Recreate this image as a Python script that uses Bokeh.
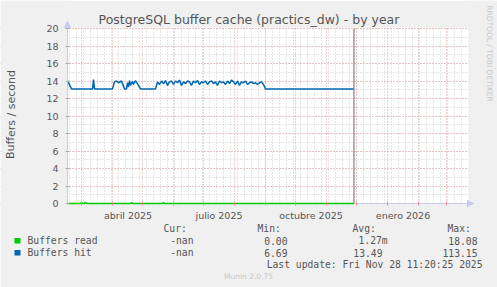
import pandas as pd
from bokeh.plotting import figure
from bokeh.models import (Range1d, FixedTicker, SingleIntervalTicker, Label,
                          Arrow, NormalHead)
from bokeh.core.properties import value
from bokeh.embed import file_html
from bokeh.resources import INLINE

# ---------------- data ----------------
read_dates = ["2025-02-15", "2025-02-28", "2025-03-01", "2025-03-02", "2025-03-04",
              "2025-03-05", "2025-03-06", "2025-04-19", "2025-04-20", "2025-04-21",
              "2025-05-21", "2025-05-22", "2025-05-23", "2025-11-28 11:20"]
read_values = [0, 0, 0.15, 0, 0, 0.15, 0, 0, 0.12, 0, 0, 0.12, 0, 0]

hit_dates = ["2025-02-15", "2025-02-19", "2025-03-12", "2025-03-13", "2025-03-14",
             "2025-04-01", "2025-04-03", "2025-04-05", "2025-04-07", "2025-04-10",
             "2025-04-11", "2025-04-13", "2025-04-15", "2025-04-16", "2025-04-17",
             "2025-04-18", "2025-04-19", "2025-04-21", "2025-04-22", "2025-04-24",
             "2025-04-27", "2025-04-29", "2025-05-14",
             "2025-05-16", "2025-05-18", "2025-05-20", "2025-05-22", "2025-05-24",
             "2025-05-26", "2025-05-28", "2025-05-30",
             "2025-06-01", "2025-06-03", "2025-06-05", "2025-06-07", "2025-06-09",
             "2025-06-11", "2025-06-13", "2025-06-15", "2025-06-17", "2025-06-19",
             "2025-06-21", "2025-06-23", "2025-06-25", "2025-06-27", "2025-06-29",
             "2025-07-01", "2025-07-03", "2025-07-05", "2025-07-07", "2025-07-09",
             "2025-07-11", "2025-07-13", "2025-07-15", "2025-07-17", "2025-07-19",
             "2025-07-21", "2025-07-23", "2025-07-25", "2025-07-27", "2025-07-29",
             "2025-07-31",
             "2025-08-02", "2025-08-04", "2025-08-06", "2025-08-08", "2025-08-10",
             "2025-08-12", "2025-08-14", "2025-08-16", "2025-08-18", "2025-08-20",
             "2025-08-22", "2025-08-24", "2025-08-26", "2025-08-28", "2025-08-30",
             "2025-09-01", "2025-11-28 11:20"]
hit_values = [14.05, 13.1, 13.1, 14.15, 13.1,
              13.1, 13.9, 14.0, 13.8, 14.0,
              13.7, 13.1, 13.1, 13.8, 13.3,
              14.05, 13.5, 13.95, 13.6, 14.05,
              13.5, 13.1, 13.1,
              13.9, 13.6, 14.0, 13.7, 14.05, 13.5, 13.9, 14.0,
              13.6, 14.0, 13.8, 14.1, 13.5, 13.9, 13.7, 14.0, 13.9, 13.5,
              14.0, 13.8, 14.05, 13.6, 13.9,
              13.8, 14.0, 13.6, 13.9, 14.0, 13.7, 13.9, 13.5, 14.0, 13.8,
              13.9, 13.6, 14.0, 13.7, 14.1, 13.9,
              13.6, 14.0, 13.5, 13.9, 13.8, 14.0, 13.6, 13.8, 13.9, 13.7,
              13.8, 13.6, 13.8, 13.9, 13.6,
              13.1, 13.1]

month_labels = ["abril 2025", "julio 2025", "octubre 2025", "enero 2026"]
month_label_dates = ["2025-04-16 12:00", "2025-07-16 12:00", "2025-10-16 12:00", "2026-01-16 12:00"]

legend_names = ["Buffers read", "Buffers hit"]
legend_colors = ["#00cc00", "#0066b3"]
legend_headers = ["Cur:", "Min:", "Avg:", "Max:"]
cur_vals = ["-nan", "-nan"]
min_vals = ["0.00", "6.69"]
avg_vals = ["1.27m", "13.49"]
max_vals = ["18.08", "113.15"]

title_text = "PostgreSQL buffer cache (practics_dw) - by year"
y_label = "Buffers / second"
side_text = "RRDTOOL / TOBI OETIKER"
last_update = "Last update: Fri Nov 28 11:20:25 2025"
footer = "Munin 2.0.75"
now_date = "2025-11-28 11:20"
range_start = "2025-02-15"
range_end = "2026-03-22"
y_max = 20


def ms(d):
    return pd.Timestamp(d).value / 1e6


def to_dt(lst):
    return pd.to_datetime(lst, format="ISO8601")


start_ms = ms(range_start)
end_ms = ms(range_end)

# rrdtool plot-area geometry in canvas pixels
FL, FR, FT, FB = 67, 467, 28, 203
W, H = 497, 287


def X(px):
    return start_ms + (px - FL) / (FR - FL) * (end_ms - start_ms)


def Y(py):
    return (FB - py) / (FB - FT) * y_max


BG = "#f0f0f0"
AX = "#c8c8f0"
TXT = "#555555"

# the frame covers the whole canvas; axes sit at fixed locations
p = figure(width=W, height=H, x_axis_type="datetime",
           x_range=Range1d(X(0), X(W)), y_range=Range1d(Y(H), Y(0)),
           output_backend="svg", toolbar_location=None, title=None,
           min_border=0, min_border_left=0, min_border_right=0,
           min_border_top=0, min_border_bottom=0)
p.border_fill_color = BG
p.background_fill_color = "#ffffff"
p.outline_line_color = None

# y axis
p.yaxis.fixed_location = start_ms
p.yaxis.bounds = (0, y_max)
p.yaxis.ticker = SingleIntervalTicker(interval=2, num_minor_ticks=2)
p.yaxis.axis_line_color = AX
p.yaxis.major_tick_in = 2
p.yaxis.major_tick_out = 2
p.yaxis.major_tick_line_color = "#b0b0b0"
p.yaxis.minor_tick_line_color = None
p.yaxis.major_label_standoff = 5
p.yaxis.major_label_text_font = "DejaVu Sans"
p.yaxis.major_label_text_font_size = "9.5px"
p.yaxis.major_label_text_color = TXT

# x axis
label_ms = [ms(d) for d in month_label_dates]
month_starts = [ms(d) for d in pd.date_range("2025-03-01", "2026-03-01", freq="MS")]
weeks = [ms(d) for d in pd.date_range("2025-02-17", "2026-03-22", freq="W-MON")]
p.xaxis.fixed_location = 0
p.xaxis.bounds = (start_ms, end_ms)
p.xaxis.ticker = FixedTicker(ticks=label_ms, minor_ticks=month_starts)
p.xaxis.major_label_overrides = {v: t for v, t in zip(label_ms, month_labels)}
p.xaxis.major_tick_line_color = None
p.xaxis.major_tick_in = 0
p.xaxis.major_tick_out = 0
p.xaxis.minor_tick_line_color = "#e89090"
p.xaxis.minor_tick_in = 2
p.xaxis.minor_tick_out = 2
p.xaxis.axis_line_color = None
p.xaxis.major_label_standoff = 4
p.xaxis.major_label_text_font = "DejaVu Sans"
p.xaxis.major_label_text_font_size = "9.5px"
p.xaxis.major_label_text_color = TXT

# grids
p.xgrid.ticker = FixedTicker(ticks=month_starts, minor_ticks=weeks)
p.xgrid.grid_line_color = "#e8a0a0"
p.xgrid.grid_line_dash = "1 2"
p.xgrid.minor_grid_line_color = "#cccccc"
p.xgrid.minor_grid_line_dash = "1 2"
p.ygrid.grid_line_color = "#e8a0a0"
p.ygrid.grid_line_dash = "1 2"
p.ygrid.minor_grid_line_color = "#cccccc"
p.ygrid.minor_grid_line_dash = "1 2"

# canvas-coloured margins around the rrdtool plot area (left, right, top, bottom)
p.quad(left=[X(0), X(FR + 1), X(0), X(0)],
       right=[start_ms, X(W), X(W), X(W)],
       bottom=[Y(H), Y(H), Y(FT - 1), Y(H)],
       top=[Y(0), Y(0), Y(0), 0],
       fill_color=BG, line_color=None)

# x axis line (under the data, as rrdtool draws it)
p.segment(x0=[start_ms], y0=[0], x1=[end_ms], y1=[0], line_color=AX, line_width=1)

# data
p.line(x=to_dt(read_dates), y=read_values, line_color=legend_colors[0], line_width=1.5)
p.line(x=to_dt(hit_dates), y=hit_values, line_color=legend_colors[1], line_width=1.5)
p.segment(x0=[ms(now_date)], y0=[0], x1=[ms(now_date)], y1=[y_max],
          line_color="#808080", line_width=1.2)

# axis arrows
p.add_layout(Arrow(end=NormalHead(size=6, fill_color=AX, line_color=AX),
                   x_start=start_ms, y_start=y_max, x_end=start_ms, y_end=Y(21),
                   line_color=AX))
p.add_layout(Arrow(end=NormalHead(size=6, fill_color=AX, line_color=AX),
                   x_start=end_ms, y_start=0, x_end=X(473), y_end=0,
                   line_color=AX))

# texts
p.add_layout(Label(x=X(248.5), y=Y(19), text=title_text, text_align="center",
                   text_baseline="middle", text_font="DejaVu Sans", text_font_size="12.5px",
                   text_color=TXT))
p.add_layout(Label(x=X(10.5), y=Y(114), text=y_label, text_align="center",
                   text_baseline="middle", text_font="DejaVu Sans", text_font_size="11px",
                   text_color=TXT, angle=1.5707963))
p.add_layout(Label(x=X(488.5), y=Y(53), text=side_text, text_align="center",
                   text_baseline="middle", text_font="DejaVu Sans", text_font_size="7.5px",
                   text_color="#c8c8c8", angle=-1.5707963))

# legend
mono = dict(text_font=value("DejaVu Sans Mono"), text_font_size=value("9.7px"),
            text_color=TXT, text_baseline="middle")
row_y = [Y(240), Y(252)]
p.text(x=[X(163), X(257), X(352), X(447)], y=[Y(228)] * 4, text=legend_headers,
       text_align="left", **mono)
p.quad(left=[X(14)] * 2, right=[X(20)] * 2, top=[Y(237.5), Y(249.5)], bottom=[Y(243), Y(255)],
       fill_color=legend_colors, line_color=None)
p.text(x=[X(27)] * 2, y=row_y, text=legend_names, text_align="left", **mono)
p.text(x=[X(193)] * 2, y=row_y, text=cur_vals, text_align="right", **mono)
p.text(x=[X(287)] * 2, y=row_y, text=min_vals, text_align="right", **mono)
p.text(x=[X(358)], y=row_y[:1], text=avg_vals[:1], text_align="left", **mono)
p.text(x=[X(382)], y=row_y[1:], text=avg_vals[1:], text_align="right", **mono)
p.text(x=[X(477)] * 2, y=row_y, text=max_vals, text_align="right", **mono)
p.text(x=[X(482)], y=[Y(263.5)], text=[last_update], text_align="right", **mono)
p.text(x=[X(248)], y=[Y(276)], text=[footer], text_align="center", text_baseline="middle",
       text_font=value("DejaVu Sans"), text_font_size=value("7.5px"), text_color="#c8c8c8")

open("out.html", "w").write(file_html(p, INLINE))
